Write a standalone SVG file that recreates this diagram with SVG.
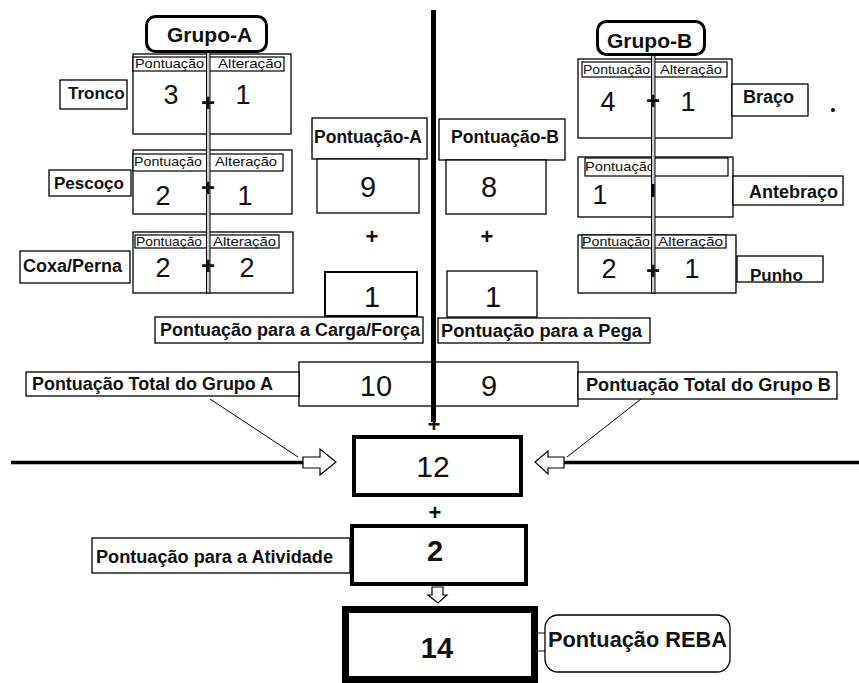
<svg xmlns="http://www.w3.org/2000/svg" width="859" height="683" viewBox="0 0 859 683">
<style>
text{font-family:"Liberation Sans",Arial,sans-serif;fill:#111}
.box{fill:#fff;stroke:#000;stroke-width:1.3}
.hb{fill:#fff;stroke:#000;stroke-width:1.2}
.lbl{font-weight:bold;font-size:18px}
.hdr{font-size:13px}
.num{font-size:27px;text-anchor:middle}
.big{font-size:29px;text-anchor:middle}
.pl{font-size:24px;font-weight:bold;text-anchor:middle}
.grp{fill:#fff;stroke:#000;stroke-width:3}
.dl{fill:#ccc;stroke:#000;stroke-width:1}
.thin{stroke:#000;stroke-width:1;fill:none}
.arr{fill:#fff;stroke:#000;stroke-width:1.2}
</style>
<rect width="859" height="683" fill="#fff"/>

<g id="tronco">
<rect class="box" x="133" y="54" width="158" height="80"/>
<rect class="hb" x="133" y="57" width="151" height="14"/>
<text class="hdr" x="135" y="68" textLength="69" lengthAdjust="spacingAndGlyphs">Pontuação</text>
<text class="hdr" x="218" y="68" textLength="64" lengthAdjust="spacingAndGlyphs">Alteração</text>
<text class="num" x="171" y="104">3</text>
<text class="num" x="243" y="104">1</text>
<rect class="box" x="60" y="80" width="67" height="29"/>
<text class="lbl" x="68" y="99" style="font-size:17px">Tronco</text>
</g>
<g id="pescoco">
<rect class="box" x="133" y="150" width="159" height="64"/>
<rect class="hb" x="133" y="154" width="150" height="17"/>
<text class="hdr" x="134" y="166" textLength="68" lengthAdjust="spacingAndGlyphs">Pontuação</text>
<text class="hdr" x="215" y="166" textLength="62" lengthAdjust="spacingAndGlyphs">Alteração</text>
<text class="num" x="163" y="205">2</text>
<text class="num" x="245" y="205">1</text>
<rect class="box" x="49" y="170" width="82" height="26"/>
<text class="lbl" x="54" y="189" style="font-size:17px">Pescoço</text>
</g>
<g id="coxa">
<rect class="box" x="133" y="232" width="160" height="61"/>
<rect class="hb" x="135" y="235" width="144" height="13"/>
<text class="hdr" x="136" y="246" textLength="66" lengthAdjust="spacingAndGlyphs">Pontuação</text>
<text class="hdr" x="213" y="246" textLength="63" lengthAdjust="spacingAndGlyphs">Alteração</text>
<text class="num" x="163" y="277">2</text>
<text class="num" x="247" y="277">2</text>
<rect class="box" x="20" y="251" width="110" height="32"/>
<text class="lbl" x="23" y="272">Coxa/Perna</text>
</g>

<g id="braco">
<rect class="box" x="578" y="59" width="154" height="79"/>
<rect class="hb" x="582" y="62" width="145" height="15"/>
<text class="hdr" x="583" y="74" textLength="67" lengthAdjust="spacingAndGlyphs">Pontuação</text>
<text class="hdr" x="660" y="74" textLength="62" lengthAdjust="spacingAndGlyphs">Alteração</text>
<text class="num" x="608" y="111">4</text>
<text class="num" x="688" y="111">1</text>
<rect class="box" x="732" y="84" width="76" height="32"/>
<text class="lbl" x="743" y="103">Braço</text>
</g>
<g id="antebraco">
<rect class="box" x="578" y="157" width="155" height="60"/>
<rect class="hb" x="585" y="158" width="143" height="18"/>
<text class="hdr" x="585" y="171" textLength="70" lengthAdjust="spacingAndGlyphs">Pontuação</text>
<text class="num" x="600" y="204">1</text>
<rect class="box" x="733" y="176" width="110" height="29"/>
<text class="lbl" x="749" y="198">Antebraço</text>
</g>
<g id="punho">
<rect class="box" x="578" y="235" width="158" height="58"/>
<rect class="hb" x="582" y="235" width="144" height="13"/>
<text class="hdr" x="582" y="246" textLength="68" lengthAdjust="spacingAndGlyphs">Pontuação</text>
<text class="hdr" x="658" y="246" textLength="65" lengthAdjust="spacingAndGlyphs">Alteração</text>
<text class="num" x="609" y="278">2</text>
<text class="num" x="692" y="278">1</text>
<rect class="box" x="737" y="256" width="86" height="26"/>
<text class="lbl" x="750" y="281" style="font-size:17px">Punho</text>
</g>
<circle cx="833" cy="110" r="2" fill="#000"/>

<g id="pontuacao-a">
<rect class="box" x="312" y="118" width="115" height="41"/>
<text class="lbl" x="314" y="143" textLength="108" lengthAdjust="spacingAndGlyphs">Pontuação-A</text>
<rect class="box" x="317" y="159" width="102" height="54"/>
<text class="big" x="368" y="197">9</text>
<text class="pl" x="372" y="244" style="font-size:22px">+</text>
<rect class="box" x="325" y="272" width="92" height="44" style="stroke-width:2"/>
<text class="big" x="372" y="307">1</text>
<rect class="box" x="155" y="317" width="268" height="26"/>
<text class="lbl" x="160" y="336" textLength="260" lengthAdjust="spacingAndGlyphs">Pontuação para a Carga/Força</text>
</g>
<g id="pontuacao-b">
<rect class="box" x="439" y="119" width="126" height="41"/>
<text class="lbl" x="451" y="143" textLength="108" lengthAdjust="spacingAndGlyphs">Pontuação-B</text>
<rect class="box" x="446" y="160" width="100" height="54"/>
<text class="big" x="489" y="197">8</text>
<text class="pl" x="487" y="244" style="font-size:22px">+</text>
<rect class="box" x="447" y="271" width="90" height="46"/>
<text class="big" x="493" y="307">1</text>
<rect class="box" x="438" y="318" width="212" height="25"/>
<text class="lbl" x="441" y="337" textLength="201" lengthAdjust="spacingAndGlyphs">Pontuação para a Pega</text>
</g>

<g id="total">
<rect class="box" x="299" y="362" width="279" height="44"/>
<text class="big" x="376" y="396">10</text>
<text class="big" x="489" y="396">9</text>
<rect class="box" x="26" y="372" width="273" height="24"/>
<text class="lbl" x="32" y="390" textLength="241" lengthAdjust="spacingAndGlyphs">Pontuação Total do Grupo A</text>
<rect class="box" x="578" y="372" width="259" height="27"/>
<text class="lbl" x="586" y="391" textLength="245" lengthAdjust="spacingAndGlyphs">Pontuação Total do Grupo B</text>
</g>

<g id="connectors">
<rect class="dl" x="206.5" y="52" width="3.5" height="241"/>
<rect class="dl" x="651.5" y="55" width="3.5" height="238"/>
<rect x="431" y="10" width="5" height="412" fill="#000"/>
<line x1="11" y1="462.5" x2="303" y2="462.5" stroke="#000" stroke-width="3.5"/>
<line x1="564" y1="462.5" x2="859" y2="462.5" stroke="#000" stroke-width="3.5"/>
<polygon class="arr" points="303,457 320,457 320,449 336,462 320,475 320,468 303,468"/>
<polygon class="arr" points="564,457 548,457 548,451 535,462 548,474 548,468 564,468"/>
<line class="thin" x1="210" y1="399" x2="298" y2="457"/>
<line class="thin" x1="641" y1="399" x2="567" y2="457"/>
<polygon class="arr" points="432,587 443,587 443,595 447,595 438,603 428,595 432,595"/>
<line x1="538" y1="633" x2="545" y2="633" stroke="#000" stroke-width="1"/>
<line x1="538" y1="651" x2="545" y2="651" stroke="#000" stroke-width="1"/>
</g>

<g id="plus-signs">
<text class="pl" x="208" y="111">+</text>
<text class="pl" x="208" y="196">+</text>
<text class="pl" x="208" y="274">+</text>
<text class="pl" x="653" y="109">+</text>
<rect x="651.5" y="184" width="3" height="13" fill="#001"/>
<text class="pl" x="653" y="279">+</text>
<text class="pl" x="434" y="432" style="font-size:22px">+</text>
<text class="pl" x="435" y="520" style="font-size:22px">+</text>
</g>

<g id="grupo-a">
<rect class="grp" x="146.5" y="16.5" width="120" height="35" rx="9"/>
<text class="lbl" x="167" y="42" style="font-size:21px">Grupo-A</text>
</g>
<g id="grupo-b">
<rect class="grp" x="597.5" y="21.5" width="107" height="33" rx="9"/>
<text class="lbl" x="607" y="48" style="font-size:21px">Grupo-B</text>
</g>

<g id="soma">
<rect x="354" y="437" width="167" height="58" fill="#fff" stroke="#000" stroke-width="4"/>
<text class="big" x="433" y="477" style="font-size:30px">12</text>
</g>
<g id="atividade">
<rect x="352" y="526" width="174" height="58" fill="#fff" stroke="#000" stroke-width="4"/>
<text class="big" x="435" y="561" style="font-weight:bold">2</text>
<rect class="box" x="92" y="538" width="258" height="35"/>
<text class="lbl" x="96" y="563" textLength="237" lengthAdjust="spacingAndGlyphs">Pontuação para a Atividade</text>
</g>
<g id="reba">
<rect x="345.5" y="609.5" width="189" height="70" fill="#fff" stroke="#000" stroke-width="7"/>
<text class="big" x="437" y="658" style="font-weight:bold">14</text>
<rect class="box" x="545" y="615" width="185" height="57" rx="13"/>
<text class="lbl" x="548" y="647" style="font-size:22px" textLength="179" lengthAdjust="spacingAndGlyphs">Pontuação REBA</text>
</g>
</svg>
